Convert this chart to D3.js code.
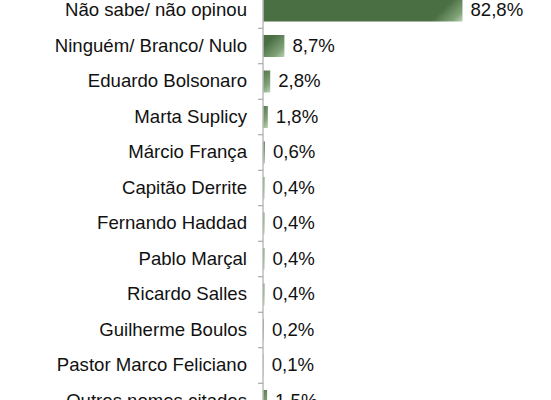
<!DOCTYPE html>
<html>
<head>
<meta charset="utf-8">
<script src="https://cdn.jsdelivr.net/npm/d3@7"></script>
<style>
  html, body { margin: 0; padding: 0; background: #fff; }
  svg { display: block; }
</style>
</head>
<body>
<svg id="chart" width="551" height="400"></svg>
<script>
const categories = [
  "Não sabe/ não opinou",
  "Ninguém/ Branco/ Nulo",
  "Eduardo Bolsonaro",
  "Marta Suplicy",
  "Márcio França",
  "Capitão Derrite",
  "Fernando Haddad",
  "Pablo Marçal",
  "Ricardo Salles",
  "Guilherme Boulos",
  "Pastor Marco Feliciano",
  "Outros nomes citados"
];
const values = [82.8, 8.7, 2.8, 1.8, 0.6, 0.4, 0.4, 0.4, 0.4, 0.2, 0.1, 1.5];
const valueLabels = ["82,8%", "8,7%", "2,8%", "1,8%", "0,6%", "0,4%", "0,4%", "0,4%", "0,4%", "0,2%", "0,1%", "1,5%"];

const data = categories.map((c, i) => ({ cat: c, value: values[i], label: valueLabels[i] }));

const svg = d3.select("#chart");
const W = 551, H = 400;
const axisX = 263;

const x = d3.scaleLinear().domain([0, 100]).range([axisX + 0.5, axisX + 0.5 + 240.3]);
const step = 35.5;
const y = d3.scaleBand()
  .domain(categories)
  .range([-7.25, -7.25 + step * categories.length])
  .paddingInner(0.38)
  .paddingOuter(0.19);

const defs = svg.append("defs");
const dark = "#4a6f43";
const light = "#b9d3b1";

data.forEach((d, i) => {
  const x1 = x(d.value), yb = y(d.cat) + y.bandwidth();
  const g = defs.append("linearGradient")
    .attr("id", "grad" + i)
    .attr("gradientUnits", "userSpaceOnUse")
    .attr("x1", x1).attr("y1", yb)
    .attr("x2", x1 - 16).attr("y2", yb - 16);
  g.append("stop").attr("offset", 0).attr("stop-color", light);
  g.append("stop").attr("offset", 0.35).attr("stop-color", "#7fa177");
  g.append("stop").attr("offset", 1).attr("stop-color", dark);
});

// bars
svg.append("g").selectAll("rect")
  .data(data)
  .join("rect")
  .attr("x", x(0))
  .attr("y", d => y(d.cat))
  .attr("width", d => x(d.value) - x(0))
  .attr("height", y.bandwidth())
  .attr("fill", (d, i) => `url(#grad${i})`);

// axis line
const axisG = svg.append("g").attr("stroke", "#9a9a9a").attr("stroke-width", 1);
axisG.append("line")
  .attr("x1", axisX).attr("x2", axisX)
  .attr("y1", 0).attr("y2", H);
// ticks at band boundaries
const bounds = d3.range(categories.length + 1).map(i => y.range()[0] + i * y.step());
axisG.selectAll("line.tick")
  .data(bounds)
  .join("line")
  .attr("class", "tick")
  .attr("x1", axisX - 5).attr("x2", axisX)
  .attr("y1", d => d).attr("y2", d => d);

// category labels
svg.append("g").selectAll("text")
  .data(data)
  .join("text")
  .attr("x", axisX - 16)
  .attr("y", d => y(d.cat) + y.bandwidth() / 2)
  .attr("dy", "0.3em")
  .attr("text-anchor", "end")
  .attr("font-family", "Liberation Sans, Arial, sans-serif")
  .attr("font-size", 18.6)
  .attr("fill", "#111")
  .text(d => d.cat);

// value labels
svg.append("g").selectAll("text")
  .data(data)
  .join("text")
  .attr("x", d => x(d.value) + 8)
  .attr("y", d => y(d.cat) + y.bandwidth() / 2)
  .attr("dy", "0.3em")
  .attr("font-family", "Liberation Sans, Arial, sans-serif")
  .attr("font-size", 18.6)
  .attr("fill", "#111")
  .text(d => d.label);
</script>
</body>
</html>
